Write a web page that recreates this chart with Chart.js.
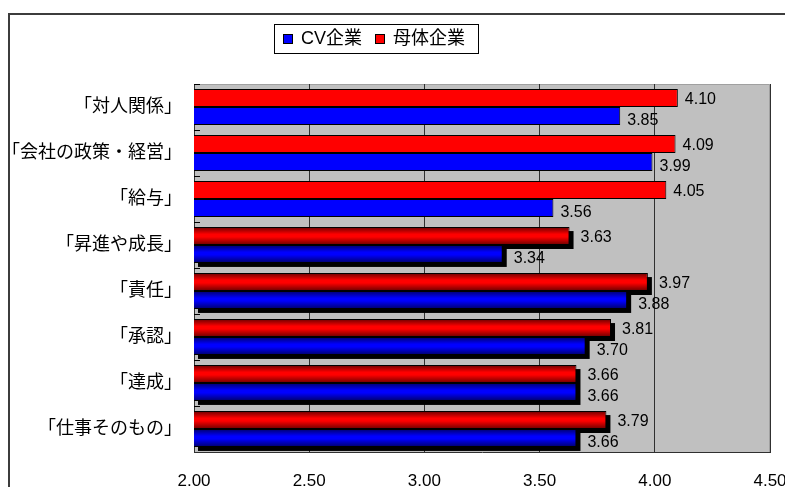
<!DOCTYPE html>
<html>
<head>
<meta charset="utf-8">
<script src="https://cdn.jsdelivr.net/npm/chart.js@4/dist/chart.umd.min.js"></script>
<style>
  html, body { margin: 0; padding: 0; background: #fff; }
  #wrap { width: 785px; height: 487px; }
</style>
</head>
<body>
<div id="wrap"><canvas id="myChart" width="785" height="487"></canvas></div>
<script>
// kategories (apo panw pros ta katw)
const categories = ['「対人関係」', '「会社の政策・経営」', '「給与」', '「昇進や成長」', '「責任」', '「承認」', '「達成」', '「仕事そのもの」'];
const seriesNames = ['CV企業', '母体企業'];
const cvValues = [3.85, 3.99, 3.56, 3.34, 3.88, 3.70, 3.66, 3.66];
const parentValues = [4.10, 4.09, 4.05, 3.63, 3.97, 3.81, 3.66, 3.79];
const axisTicks = [2.00, 2.50, 3.00, 3.50, 4.00, 4.50];

const FONT = '"Liberation Sans", "Noto Sans CJK JP", sans-serif';
const shadedFrom = 3; // apo edw kai katw oi mpares exoun skia kai gradient
const SHADOW = 4;

// gradient gia tis mpares me skia
function barFill(ctx, light, dark, flat) {
    const chart = ctx.chart;
    const i = ctx.dataIndex;
    const sy = chart.scales.y;
    if (i < shadedFrom || !sy || !chart.chartArea) return flat;
    const catH = sy.height / categories.length;
    const h = catH * 0.78 / 2;
    const c = sy.getPixelForValue(i);
    const top = ctx.datasetIndex === 0 ? c - h : c;
    const g = chart.ctx.createLinearGradient(0, top, 0, top + h);
    g.addColorStop(0, dark);
    g.addColorStop(0.4, light);
    g.addColorStop(0.55, light);
    g.addColorStop(1, dark);
    return g;
}

const frameAndBack = {
    id: 'frameAndBack',
    beforeDraw(chart) {
        const c = chart.ctx, a = chart.chartArea;
        c.save();
        c.fillStyle = '#fff';
        c.fillRect(0, 0, chart.width, chart.height);
        c.strokeStyle = '#3c3c3c';
        c.lineWidth = 2;
        c.strokeRect(9, 14, 800, 500);
        c.fillStyle = '#c0c0c0';
        c.fillRect(a.left, a.top, a.right - a.left, a.bottom - a.top);
        c.strokeStyle = '#a0a0a0';
        c.lineWidth = 1;
        c.beginPath();
        c.moveTo(a.left, a.top + 0.5);
        c.lineTo(a.right - 0.5, a.top + 0.5);
        c.lineTo(a.right - 0.5, a.bottom);
        c.stroke();
        c.restore();
    },
    beforeDatasetsDraw(chart) {
        // skies
        const c = chart.ctx, a = chart.chartArea;
        c.save();
        c.beginPath();
        c.rect(a.left, a.top, a.right - a.left, a.bottom - a.top);
        c.clip();
        c.fillStyle = '#000';
        chart.data.datasets.forEach((ds, di) => {
            chart.getDatasetMeta(di).data.forEach((bar, i) => {
                if (i < shadedFrom) return;
                const left = Math.max(bar.base, a.left);
                c.fillRect(left + SHADOW, bar.y - bar.height / 2 + SHADOW, bar.x - left, bar.height);
            });
        });
        c.restore();
    },
    afterDatasetsDraw(chart) {
        const c = chart.ctx, a = chart.chartArea;
        c.save();
        // mikra ticks ston aksona y
        const sy = chart.scales.y;
        const catH = sy.height / categories.length;
        c.strokeStyle = '#000';
        c.lineWidth = 1;
        c.beginPath();
        for (let i = 0; i < categories.length; i++) {
            const y = Math.round(sy.getPixelForValue(i) - catH / 2) + 0.5;
            c.moveTo(a.left, y);
            c.lineTo(a.left + 6, y);
        }
        c.stroke();
        // times dipla stis mpares
        c.font = '16px ' + FONT;
        c.fillStyle = '#000';
        c.textAlign = 'left';
        c.textBaseline = 'middle';
        chart.data.datasets.forEach((ds, di) => {
            chart.getDatasetMeta(di).data.forEach((bar, i) => {
                const extra = i >= shadedFrom ? SHADOW : 0;
                const dy = di === 0 ? 2 : 5;
                c.fillText(ds.data[i].toFixed(2), bar.x + 7 + extra, bar.y + dy);
            });
        });
        c.restore();
    },
    afterDraw(chart) {
        // legend me plaisio
        const c = chart.ctx;
        c.save();
        c.fillStyle = '#fff';
        c.fillRect(274, 24, 204, 29);
        c.strokeStyle = '#000';
        c.lineWidth = 1;
        c.strokeRect(274.5, 24.5, 204, 29);
        c.font = '18px ' + FONT;
        c.textBaseline = 'middle';
        c.textAlign = 'left';
        const yc = 39;
        const marks = [283, 375];
        [1, 0].forEach((di, k) => {
            const ds = chart.data.datasets[di];
            const x = marks[k];
            c.fillStyle = ds.legendColor;
            c.fillRect(x, yc - 5, 10, 10);
            c.strokeStyle = '#000';
            c.strokeRect(x + 0.5, yc - 4.5, 9, 9);
            c.fillStyle = '#000';
            c.fillText(ds.label, x + 18, yc);
        });
        c.restore();
    }
};

const data = {
    labels: categories,
    datasets: [{
            label: seriesNames[1],
            data: parentValues,
            legendColor: '#ff0000',
            backgroundColor: ctx => barFill(ctx, '#ff0000', '#6a0000', '#ff0000'),
            borderColor: '#000',
            borderWidth: 1,
        },
        {
            label: seriesNames[0],
            data: cvValues,
            legendColor: '#0000ff',
            backgroundColor: ctx => barFill(ctx, '#0000ff', '#00006a', '#0000ff'),
            borderColor: '#000',
            borderWidth: 1,
        }
    ]
};

const config = {
    type: 'bar',
    data: data,
    options: {
        indexAxis: 'y',
        responsive: false,
        animation: false,
        categoryPercentage: 0.78,
        barPercentage: 1,
        layout: { padding: { top: 84, right: 15, left: 0, bottom: 0 } },
        plugins: {
            legend: { display: false },
            tooltip: { enabled: false }
        },
        scales: {
            x: {
                min: axisTicks[0],
                max: axisTicks[axisTicks.length - 1],
                afterBuildTicks: scale => { scale.ticks = axisTicks.map(v => ({ value: v })); },
                afterFit: scale => {
                    scale.height = 35;
                    scale.paddingLeft = 0;
                    scale.paddingRight = 0;
                },
                grid: { color: '#303030', drawTicks: false },
                border: { color: '#303030' },
                ticks: {
                    padding: 19,
                    color: '#000',
                    font: { family: FONT, size: 17 },
                    callback: v => Number(v).toFixed(2)
                }
            },
            y: {
                afterFit: scale => { scale.width = 194; },
                grid: { display: false, drawTicks: false },
                border: { color: '#303030' },
                ticks: {
                    padding: 12,
                    color: '#000',
                    font: { family: FONT, size: 18 }
                }
            }
        }
    },
    plugins: [frameAndBack]
};

const myChart = new Chart(document.getElementById('myChart'), config);
</script>
</body>
</html>
